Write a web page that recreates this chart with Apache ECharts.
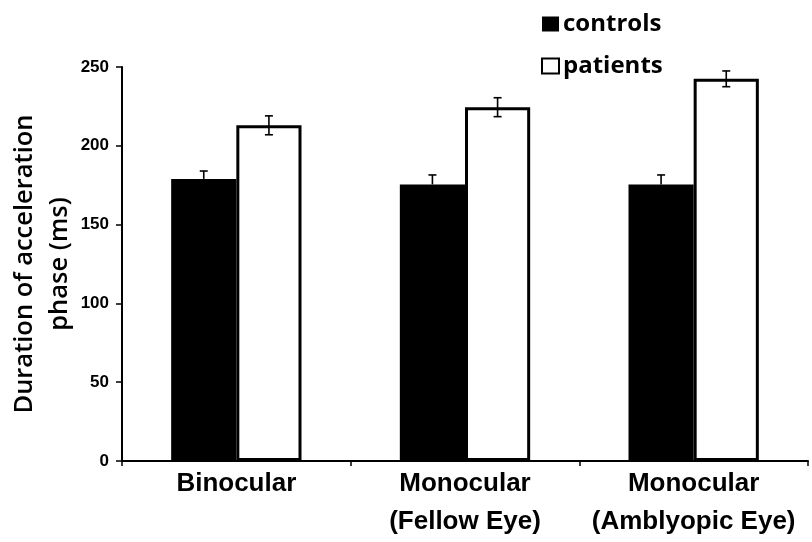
<!DOCTYPE html>
<html><head><meta charset="utf-8">
<script src="https://cdn.jsdelivr.net/npm/echarts@6/dist/echarts.min.js"></script>
<style>html,body{margin:0;padding:0;background:#fff}#c{width:812px;height:542px}</style>
</head><body><div id="c"></div>
<script>
const categories = ['Binocular', 'Monocular\n(Fellow Eye)', 'Monocular\n(Amblyopic Eye)'];
const controls = [179, 175.5, 175.5];
const controlsErr = [5, 6, 6];
const patients = [213, 224.5, 242.5];
const patientsErr = [6, 6, 5];
const yTicks = [0, 50, 100, 150, 200, 250];

const chart = echarts.init(document.getElementById('c'));
const font = 'Arial, "Liberation Sans", sans-serif';
const hfont = '"Open Sans", "Noto Sans", sans-serif';

function errSeries(vals, errs, idx) {
  return {
    type: 'custom', z: 10,
    data: vals.map((v, i) => [i, v, errs[i]]),
    renderItem: function (params, api) {
      const i = api.value(0), v = api.value(1), e = api.value(2);
      const c = api.coord([i, v]);
      const bw = api.size([1, 0])[0];
      const barW = bw * 0.285;
      const x = c[0] + (idx === 0 ? -barW / 2 : barW / 2);
      const top = api.coord([i, v + e])[1];
      const bot = api.coord([i, v - e])[1];
      const cap = 4;
      const st = { stroke: '#000', lineWidth: 1.6 };
      const lines = [
        [[x, top], [x, idx === 0 ? c[1] : bot]],
        [[x - cap, top], [x + cap, top]]
      ];
      if (idx === 1) lines.push([[x - cap, bot], [x + cap, bot]]);
      return { type: 'group', children: lines.map(l => ({ type: 'line', shape: { x1: l[0][0], y1: l[0][1], x2: l[1][0], y2: l[1][1] }, style: st })) };
    }
  };
}

chart.setOption({
  animation: false,
  backgroundColor: '#fff',
  grid: { left: 122, right: 4, top: 67, bottom: 81, outerBoundsMode: 'none', containLabel: false },
  legend: {
    orient: 'vertical', left: 536, top: 7, itemGap: 18,
    itemWidth: 17, itemHeight: 15,
    textStyle: { fontFamily: hfont, fontSize: 24, fontWeight: 'bold', color: '#000', padding: [0, 0, 0, -1] },
    data: [
      { name: 'controls', icon: 'rect', itemStyle: { color: '#000', borderWidth: 0 } },
      { name: 'patients', icon: 'rect', itemStyle: { color: '#fff', borderColor: '#000', borderWidth: 2 } }
    ]
  },
  xAxis: {
    type: 'category', data: categories,
    axisLine: { lineStyle: { color: '#000', width: 2 } },
    axisTick: { show: true, length: 5, lineStyle: { color: '#000', width: 1.5 } },
    axisLabel: { interval: 0, hideOverlap: false, fontFamily: font, fontSize: 26, fontWeight: 'bold', color: '#000', lineHeight: 38, margin: 4 }
  },
  yAxis: {
    type: 'value', min: 0, max: 250, interval: 50,
    name: 'Duration of acceleration\nphase (ms)', nameLocation: 'middle', nameGap: 80, nameRotate: 90,
    nameMoveOverlap: false,
    nameTextStyle: { fontFamily: hfont, fontSize: 25.5, fontWeight: 600, color: '#000', lineHeight: 35,
      align: 'center', verticalAlign: 'middle' },
    axisLine: { show: true, lineStyle: { color: '#000', width: 2 } },
    axisTick: { show: true, length: 6, lineStyle: { color: '#000', width: 1.5 } },
    splitLine: { show: false },
    axisLabel: { fontFamily: font, fontSize: 17, fontWeight: 'bold', color: '#000', margin: 13,
      formatter: v => yTicks.includes(v) ? String(v) : '' }
  },
  series: [
    { name: 'controls', type: 'bar', data: controls, barWidth: '28.5%', barGap: '0%',
      itemStyle: { color: '#000' } },
    { name: 'patients', type: 'bar', data: patients, barWidth: '28.5%', barGap: '0%',
      itemStyle: { color: '#fff', borderColor: '#000', borderWidth: 3 } },
    errSeries(controls, controlsErr, 0),
    errSeries(patients, patientsErr, 1)
  ]
});
</script></body></html>
